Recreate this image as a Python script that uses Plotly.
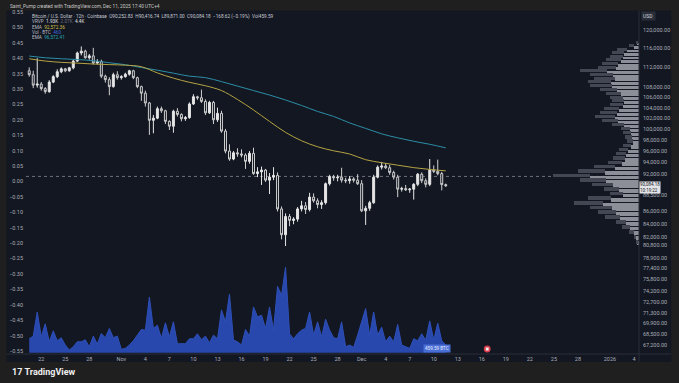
import numpy as np
import pandas as pd
import plotly.graph_objects as go

W, H = 679, 383
ML, MR, MT, MB = 20, 33, 9, 29
PW, PH = W - ML - MR, H - MT - MB


def px_x(px):
    return (px - ML) / PW


def px_y(py):
    return (H - MB - py) / PH


# ---------------- data ----------------
times = pd.date_range("2025-10-20 12:00", periods=105, freq="12h")

opens = [111300, 110500, 108400, 108600, 107700, 107100, 109000, 110100, 111100, 111700,
         111300, 111900, 113300, 115000, 115400, 114000, 114400, 112900, 113200, 110200,
         109500, 108100, 110500, 109900, 110100, 110600, 111300, 109900, 108100, 106800,
         104900, 101600, 102000, 103800, 103400, 101400, 100500, 103300, 102700, 101900,
         102100, 104700, 106100, 105900, 105200, 103000, 105000, 101700, 102900, 99600,
         96000, 94600, 95700, 95500, 95300, 94200, 95600, 92100, 92400, 92700,
         91000, 91500, 91800, 86300, 82300, 85100, 84500, 84700, 86300, 86800,
         86200, 88200, 87600, 87000, 87300, 90400, 91600, 91400, 91500, 91000,
         90900, 91200, 91000, 90400, 86000, 86400, 87300, 91500, 93200, 93400,
         93100, 92300, 91500, 89500, 89600, 89400, 89500, 90300, 92000, 90900,
         90300, 92700, 92500, 92100, 90252.83]
highs = [112000, 111300, 113900, 109000, 108000, 109400, 110400, 111600, 112000, 111900,
         112100, 113600, 115300, 116400, 115700, 114800, 116100, 113700, 113600, 110500,
         110000, 110900, 111200, 110400, 110900, 111500, 111500, 110100, 108300, 107300,
         105100, 102600, 104200, 104200, 103600, 101600, 103600, 103900, 102900, 102400,
         105000, 106600, 106300, 107500, 105600, 105300, 105300, 104000, 103400, 100000,
         97200, 96000, 96500, 96300, 95600, 96000, 96600, 93200, 93300, 92900,
         92200, 93200, 92300, 86700, 85600, 85500, 85000, 86600, 87600, 87400,
         88900, 88800, 88000, 87700, 90600, 91900, 91900, 91900, 93100, 91400,
         91700, 91500, 92000, 91000, 86800, 87600, 91900, 93500, 94100, 93900,
         93600, 92600, 91900, 89900, 90200, 89700, 90500, 92200, 92300, 91300,
         94600, 93500, 94500, 92400, 90416.74]
lows = [110100, 107800, 107900, 107300, 106700, 106900, 108800, 109800, 110800, 111000,
        111100, 111600, 113100, 114500, 113800, 113600, 112600, 112600, 109800, 108900,
        106400, 107900, 109500, 109500, 109900, 110300, 109600, 107800, 105300, 104200,
        98900, 99200, 101800, 103000, 100900, 99800, 99300, 102300, 101400, 101500,
        101900, 104500, 105500, 104900, 102600, 102800, 100900, 101300, 99300, 95600,
        94300, 94400, 95000, 94900, 92900, 93800, 91900, 91500, 90200, 90700,
        88700, 91000, 85900, 81600, 80600, 83600, 83900, 84300, 85900, 85500,
        85900, 87300, 86400, 86300, 87000, 90100, 90900, 90800, 90600, 90500,
        90400, 90600, 90200, 85800, 83800, 86000, 87100, 91300, 92800, 92900,
        91900, 91100, 88200, 89100, 89200, 88900, 87800, 90000, 90500, 89800,
        90000, 92200, 91800, 89300, 89871.00]
closes = [110500, 108400, 108600, 107700, 107100, 109000, 110100, 111100, 111700, 111300,
          111900, 113300, 115000, 115400, 114000, 114400, 112900, 113200, 110200, 109500,
          108100, 110500, 109900, 110100, 110600, 111300, 109900, 108100, 106800, 104900,
          101600, 102000, 103800, 103400, 101400, 100500, 103300, 102700, 101900, 102100,
          104700, 106100, 105900, 105200, 103000, 105000, 101700, 102900, 99600, 96000,
          94600, 95700, 95500, 95300, 94200, 95600, 92100, 92400, 92700, 91000,
          91500, 91800, 86300, 82300, 85100, 84500, 84700, 86300, 86800, 86200,
          88200, 87600, 87000, 87300, 90400, 91600, 91400, 91500, 91000, 90900,
          91200, 91000, 90400, 86000, 86400, 87300, 91500, 93200, 93400, 93100,
          92300, 91500, 89500, 89600, 89400, 89500, 90300, 92000, 90900, 90300,
          92700, 92500, 92100, 90252.83, 90084.18]
volume_btc = [840, 1000, 2460, 960, 1740, 660, 1320, 720, 900, 460,
              160, 360, 660, 660, 780, 360, 1000, 520, 1160, 900,
              1460, 900, 1000, 200, 260, 460, 720, 1060, 1400, 1360,
              3360, 1460, 1660, 860, 1800, 960, 1860, 540, 540, 540,
              840, 840, 1140, 780, 1000, 600, 1060, 840, 2580, 1860,
              3540, 760, 660, 460, 1400, 1000, 2760, 2160, 2260, 1460,
              2760, 1360, 4000, 3460, 5160, 1140, 840, 1140, 1360, 1460,
              2460, 1060, 1860, 960, 2020, 1360, 900, 840, 1860, 360,
              460, 320, 1060, 1800, 2660, 1060, 2460, 1060, 1540, 660,
              1000, 660, 1700, 460, 360, 260, 840, 720, 1140, 760,
              1920, 760, 1780, 720, 459.59]

# EMA values read every 4th candle
ema_times = times[::4]
ema_yellow = [113790, 113310, 113040, 112880, 112690, 112570, 112450, 112140, 110860, 109800,
              108960, 108270, 107320, 105570, 103550, 101390, 99370, 97840, 96770, 96050,
              95490, 94490, 93970, 93540, 93120, 92810, 92572.36]
ema_teal = [114360, 114000, 113790, 113630, 113380, 112960, 112550, 111970, 111420, 110810,
            110200, 109900, 109100, 108210, 107320, 106440, 105470, 104410, 103270, 102330,
            101110, 100100, 99100, 98370, 97750, 97210, 96572.41]

# Visible range volume profile (row size 750 USD)
vp_row = 750
vp_price = [81125, 81875, 82625, 83375, 84125, 84875, 85625, 86375, 87125, 87875,
            88625, 89375, 90125, 90875, 91625, 92375, 93125, 93875, 94625, 95375,
            96125, 96875, 97625, 98375, 99125, 99875, 100625, 101375, 102125, 102875,
            103625, 104375, 105125, 105875, 106625, 107375, 108125, 108875, 109625, 110375,
            111125, 111875, 112625, 113375, 114125, 114875, 115625, 116375, 117125]
vp_total = [300, 500, 1000, 1700, 2400, 3500, 4200, 5000, 6600, 5200,
            3000, 3600, 4800, 6000, 8800, 6200, 4600, 3200, 2700, 2400,
            2000, 1600, 1200, 1400, 1600, 1800, 2800, 3800, 4500, 4000,
            3600, 3000, 2800, 3000, 3400, 4000, 5000, 5200, 4600, 5000,
            6000, 4200, 3800, 3400, 3000, 2800, 2200, 1000, 300]
vp_up = [150, 280, 520, 900, 1300, 1900, 2300, 2800, 3700, 2900,
         1600, 2000, 2700, 3400, 5000, 3500, 2500, 1700, 1400, 1300,
         1100, 850, 650, 750, 850, 950, 1500, 2100, 2500, 2200,
         2000, 1600, 1500, 1600, 1800, 2200, 2800, 2900, 2500, 2700,
         3300, 2300, 2100, 1800, 1600, 1500, 1200, 550, 150]

price_ticks = [120000, 116000, 112000, 108000, 106000, 104000, 102000, 100000, 98000, 96000,
               94000, 92000, 88500, 86000, 84000, 82000, 80800, 78900, 77400, 75800,
               74200, 72700, 71300, 69900, 68500, 67200]
date_ticks = ["2025-10-22", "2025-10-25", "2025-10-28", "2025-11-01", "2025-11-04", "2025-11-07",
              "2025-11-10", "2025-11-13", "2025-11-16", "2025-11-19", "2025-11-22", "2025-11-25",
              "2025-11-28", "2025-12-01", "2025-12-04", "2025-12-07", "2025-12-10", "2025-12-13",
              "2025-12-16", "2025-12-19", "2025-12-22", "2025-12-25", "2025-12-28", "2026-01-01",
              "2026-01-04"]
date_labels = ["22", "25", "28", "Nov", "4", "7", "10", "13", "16", "19", "22", "25", "28",
               "Dec", "4", "7", "10", "13", "16", "19", "22", "25", "28", "2026", "4"]

# ---------------- styling ----------------
BG = "#131722"
FRAME = "#1f1f1f"
TXT = "#a9acb5"
FONT = "Roboto, sans-serif"
Y_LO, Y_HI = 66070, 124250
LOG_RANGE = [np.log10(Y_LO), np.log10(Y_HI)]

fig = go.Figure()

# volume area
fig.add_trace(go.Scatter(x=times, y=volume_btc, mode="lines", line=dict(color="#2d4fb8", width=1),
                         fill="tozeroy", fillcolor="#2948ae", xaxis="x", yaxis="y3",
                         hoverinfo="skip", showlegend=False))

# left scale (empty, only for its axis)
fig.add_trace(go.Scatter(x=[times[0]], y=[0], mode="markers", marker=dict(opacity=0),
                         xaxis="x", yaxis="y2", hoverinfo="skip", showlegend=False))

# volume profile
vp_log = np.log10(vp_price)
vp_w = np.log10((np.array(vp_price) + vp_row / 2) / (np.array(vp_price) - vp_row / 2)) * 0.8
vp_down = np.array(vp_total) - np.array(vp_up)
fig.add_trace(go.Bar(y=vp_log, x=vp_up, orientation="h", width=vp_w, base=0,
                     marker=dict(color="#8c8f98", line=dict(width=0)),
                     xaxis="x2", yaxis="y4", hoverinfo="skip", showlegend=False))
fig.add_trace(go.Bar(y=vp_log, x=vp_down, orientation="h", width=vp_w, base=vp_up,
                     marker=dict(color="#434753", line=dict(width=0)),
                     xaxis="x2", yaxis="y4", hoverinfo="skip", showlegend=False))

# EMAs
fig.add_trace(go.Scatter(x=ema_times, y=ema_teal, mode="lines", line=dict(color="#2b8ea6", width=1),
                         line_shape="spline", hoverinfo="skip", showlegend=False))
fig.add_trace(go.Scatter(x=ema_times, y=ema_yellow, mode="lines", line=dict(color="#b5a443", width=1),
                         line_shape="spline", hoverinfo="skip", showlegend=False))

# candles
fig.add_trace(go.Candlestick(x=times, open=opens, high=highs, low=lows, close=closes,
                             increasing=dict(fillcolor="#e6e6e6", line=dict(color="#e6e6e6", width=1)),
                             decreasing=dict(fillcolor=BG, line=dict(color="#cfcfcf", width=1)),
                             whiskerwidth=0, hoverinfo="skip", showlegend=False))

poc_price = vp_price[int(np.argmax(vp_total))]

shapes = [
    # chart panel background
    dict(type="rect", xref="paper", yref="paper", x0=px_x(0), x1=px_x(W), y0=px_y(8.5), y1=px_y(362),
         fillcolor=BG, line=dict(width=0), layer="below"),
    # POC dotted line
    dict(type="line", xref="paper", yref="y", x0=0, x1=1, y0=poc_price, y1=poc_price,
         line=dict(color="#6f727c", width=1, dash="dot"), layer="below"),
    # right axis separator
    dict(type="line", xref="paper", yref="paper", x0=1, x1=1, y0=px_y(8.5), y1=px_y(362),
         line=dict(color="#2a2e39", width=1)),
    # time axis separator
    dict(type="line", xref="paper", yref="paper", x0=px_x(0), x1=px_x(W), y0=0, y1=0,
         line=dict(color="#2a2e39", width=1)),
    # red event icon
    dict(type="circle", xref="paper", yref="paper", x0=px_x(487.5), x1=px_x(494.5), y0=px_y(352.5), y1=px_y(345.5),
         fillcolor="#d93a4a", line=dict(width=0)),
    dict(type="rect", xref="paper", yref="paper", x0=px_x(489.5), x1=px_x(492.5), y0=px_y(350.5), y1=px_y(347.5),
         fillcolor="#f0f0f0", line=dict(width=0)),
]

annotations = [
    dict(xref="paper", yref="paper", x=px_x(2), y=px_y(4.2), xanchor="left", yanchor="middle",
         text="Saint_Pump created with TradingView.com, Dec 11, 2025 17:40 UTC+4",
         showarrow=False, font=dict(family=FONT, size=4.8, color="#c8c8c8")),
    dict(xref="paper", yref="paper", x=px_x(24), y=px_y(14.5), xanchor="left", yanchor="middle",
         text="Bitcoin / U.S. Dollar · 12h · Coinbase  O90,252.83  H90,416.74  L89,871.00  C90,084.18  −168.62 (−0.19%)  Vol459.59",
         showarrow=False, font=dict(family=FONT, size=4.7, color="#c9ccd3")),
    dict(xref="paper", yref="paper", x=px_x(24), y=px_y(19.8), xanchor="left", yanchor="middle",
         text="VRVP  <span style='color:#e0e0e0'>1.93K</span>  <span style='color:#6d707a'>2.07K</span>  <span style='color:#e0e0e0'>4.4K</span>",
         showarrow=False, font=dict(family=FONT, size=4.7, color="#b8bbc3")),
    dict(xref="paper", yref="paper", x=px_x(24), y=px_y(25.2), xanchor="left", yanchor="middle",
         text="EMA  <span style='color:#d4c14a'>92,572.36</span>",
         showarrow=False, font=dict(family=FONT, size=4.7, color="#b8bbc3")),
    dict(xref="paper", yref="paper", x=px_x(24), y=px_y(30.4), xanchor="left", yanchor="middle",
         text="Vol · BTC  <span style='color:#3d63d6'>460</span>",
         showarrow=False, font=dict(family=FONT, size=4.7, color="#b8bbc3")),
    dict(xref="paper", yref="paper", x=px_x(24), y=px_y(35.6), xanchor="left", yanchor="middle",
         text="EMA  <span style='color:#26a6b0'>96,572.41</span>",
         showarrow=False, font=dict(family=FONT, size=4.7, color="#b8bbc3")),
    # USD box
    dict(xref="paper", yref="paper", x=px_x(648), y=px_y(14), xanchor="left", yanchor="middle",
         text="USD ", showarrow=False, bgcolor="#2a2e39", borderpad=1,
         font=dict(family=FONT, size=5, color="#d1d4dc")),
    # last price label
    dict(xref="paper", yref="y", x=1, y=np.log10(closes[-1]), xanchor="left", yanchor="top", yshift=4.5,
         text="90,084.18<br>10:19:22", showarrow=False, bgcolor="#e3e4e8", borderpad=0, align="left",
         font=dict(family=FONT, size=4.5, color="#131722")),
    # volume value label
    dict(xref="paper", yref="paper", x=px_x(425), y=px_y(348.8), xanchor="left", yanchor="middle",
         text="459.59 BTC", showarrow=False, bgcolor="#4a6fd4", borderpad=1,
         font=dict(family=FONT, size=4.6, color="#e8ecff")),
    # logo
    dict(xref="paper", yref="paper", x=px_x(4), y=px_y(372.5), xanchor="left", yanchor="middle",
         text="<b>17</b> <b>TradingView</b>", showarrow=False,
         font=dict(family=FONT, size=9, color="#f0f0f0")),
]

axis_font = dict(family=FONT, size=5.5, color=TXT)

fig.update_layout(
    width=W, height=H,
    margin=dict(l=ML, r=MR, t=MT, b=MB, pad=0),
    paper_bgcolor=FRAME, plot_bgcolor=BG,
    showlegend=False, hovermode=False,
    xaxis=dict(type="date", range=["2025-10-20 02:20", "2026-01-04 15:00"],
               tickvals=date_ticks, ticktext=date_labels, tickfont=axis_font,
               showgrid=False, zeroline=False, showline=False, ticks="",
               rangeslider=dict(visible=False), fixedrange=True),
    xaxis2=dict(overlaying="x", range=[PW * 100, 0], visible=False, anchor="y4", fixedrange=True),
    yaxis=dict(type="log", range=LOG_RANGE, side="right", tickvals=price_ticks,
               ticktext=[f"{v:,.2f}" for v in price_ticks], tickfont=axis_font,
               showgrid=False, zeroline=False, showline=False, ticks="", ticklabelstandoff=3),
    yaxis2=dict(overlaying="y", side="left", range=[-0.5597, 0.5532], dtick=0.05, tick0=0,
                tickformat=".2f", tickfont=axis_font, showgrid=False, zeroline=False,
                showline=False, ticks="", ticklabelstandoff=2),
    yaxis3=dict(overlaying="y", range=[-80, PH * 60 - 80], visible=False),
    yaxis4=dict(overlaying="y", range=LOG_RANGE, visible=False),
    shapes=shapes, annotations=annotations,
    bargap=0,
)

fig.write_html("out.html", config={"displayModeBar": False},
               post_script="document.body.style.margin='0';document.body.style.overflow='hidden';")
